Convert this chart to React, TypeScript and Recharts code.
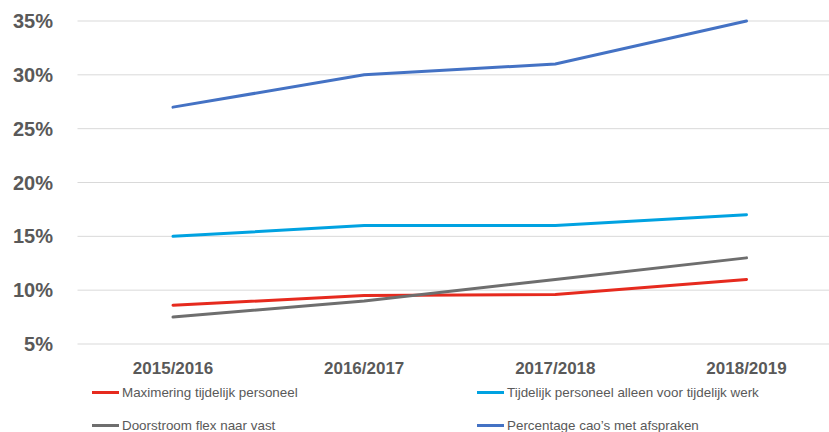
import { CartesianGrid, Line, LineChart, XAxis, YAxis } from 'recharts';

const categories = ['2015/2016', '2016/2017', '2017/2018', '2018/2019'];
const maximering = [8.6, 9.5, 9.6, 11];
const tijdelijkWerk = [15, 16, 16, 17];
const doorstroom = [7.5, 9, 11, 13];
const caoAfspraken = [27, 30, 31, 35];
const yTicks = [5, 10, 15, 20, 25, 30, 35];

const SERIES = [
    { key: 'maximering', name: 'Maximering tijdelijk personeel', color: '#E62A1E' },
    { key: 'tijdelijkWerk', name: 'Tijdelijk personeel alleen voor tijdelijk werk', color: '#00A2E1' },
    { key: 'doorstroom', name: 'Doorstroom flex naar vast', color: '#6E6E6E' },
    { key: 'caoAfspraken', name: 'Percentage cao\u2019s met afspraken', color: '#4472C4' },
];

const data = categories.map((c, i) => ({
    category: c,
    maximering: maximering[i],
    tijdelijkWerk: tijdelijkWerk[i],
    doorstroom: doorstroom[i],
    caoAfspraken: caoAfspraken[i],
}));

const FONT = '"Liberation Sans", Arial, sans-serif';
const TEXT = '#595959';

export default function App() {
    return (
        <div style={{ position: 'fixed', top: 0, left: 0, width: 829, height: 432, overflow: 'hidden', background: '#fff', fontFamily: FONT }}>
            {/* chart is a bit wider than the window, the reference is cropped on the right */}
            <LineChart width={842} height={432} data={data} margin={{ top: 21, right: 0, bottom: 0, left: 0 }}>
                <CartesianGrid vertical={false} stroke="#D9D9D9" strokeWidth={1} />
                <XAxis
                    dataKey="category"
                    axisLine={false}
                    tickLine={false}
                    tickSize={0}
                    tickMargin={18}
                    height={88}
                    interval={0}
                    padding={{ left: 95.5, right: 95.5 }}
                    tick={{ fill: TEXT, fontSize: 17, fontWeight: 700, fontFamily: FONT }}
                />
                <YAxis
                    domain={[5, 35]}
                    ticks={yTicks}
                    width={77.5}
                    axisLine={false}
                    tickLine={false}
                    tickSize={0}
                    tickMargin={24.5}
                    tickFormatter={(v: number) => `${v}%`}
                    tick={{ fill: TEXT, fontSize: 20, fontWeight: 700, fontFamily: FONT }}
                />
                {SERIES.map((s) => (
                    <Line
                        key={s.key}
                        type="linear"
                        dataKey={s.key}
                        name={s.name}
                        stroke={s.color}
                        strokeWidth={3}
                        strokeLinecap="round"
                        dot={false}
                        activeDot={false}
                        isAnimationActive={false}
                    />
                ))}
            </LineChart>
            {/* legend, 2 x 2 */}
            {SERIES.map((s, i) => (
                <div
                    key={s.key}
                    style={{
                        position: 'absolute',
                        left: i % 2 === 0 ? 92 : 477,
                        top: i < 2 ? 383 : 416,
                        display: 'flex',
                        alignItems: 'center',
                        fontSize: 13.4,
                        color: TEXT,
                        whiteSpace: 'nowrap',
                        height: 18,
                    }}
                >
                    <span style={{ display: 'inline-block', width: 27, height: 3, background: s.color, marginRight: 3 }} />
                    <span>{s.name}</span>
                </div>
            ))}
        </div>
    );
}
